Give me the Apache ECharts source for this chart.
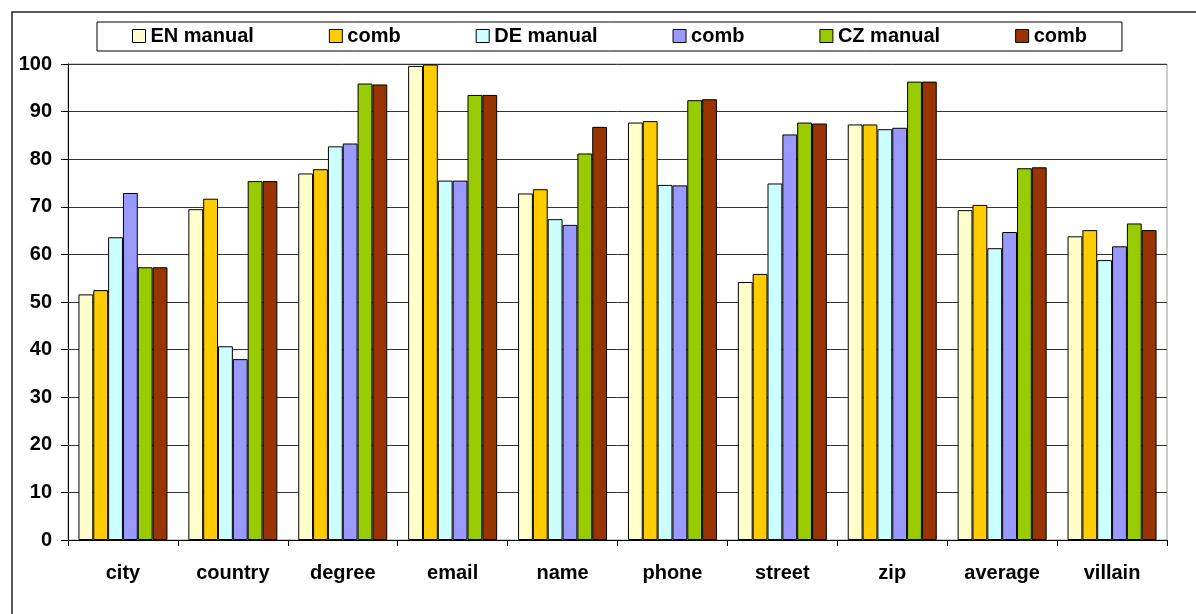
<!DOCTYPE html>
<html>
<head>
<meta charset="utf-8">
<script src="https://cdn.jsdelivr.net/npm/echarts@6/dist/echarts.min.js"></script>
<style>
  html, body { margin: 0; padding: 0; background: #fff; }
  #chart { width: 1196px; height: 614px; }
</style>
</head>
<body>
<div id="chart"></div>
<script>
// Field categories along the x axis
const categories = ['city', 'country', 'degree', 'email', 'name', 'phone', 'street', 'zip', 'average', 'villain'];

// Scores per field (percent)
const enManual = [51.6, 69.5, 77.0, 99.6, 72.8, 87.7, 54.2, 87.3, 69.3, 63.8];
const enComb   = [52.5, 71.7, 77.9, 99.9, 73.7, 88.0, 55.9, 87.3, 70.4, 65.1];
const deManual = [63.6, 40.7, 82.7, 75.5, 67.4, 74.6, 74.9, 86.3, 61.3, 58.8];
const deComb   = [72.9, 38.0, 83.3, 75.5, 66.2, 74.5, 85.2, 86.6, 64.7, 61.7];
const czManual = [57.3, 75.4, 95.9, 93.5, 81.2, 92.4, 87.7, 96.3, 78.1, 66.5];
const czComb   = [57.3, 75.4, 95.7, 93.5, 86.8, 92.6, 87.5, 96.3, 78.3, 65.1];

// Legend entries; the three "comb" series get distinct keys but display as "comb"
const seriesNames = ['EN manual', 'EN comb', 'DE manual', 'DE comb', 'CZ manual', 'CZ comb'];
const seriesData = [enManual, enComb, deManual, deComb, czManual, czComb];
const seriesColors = ['#FFFFCC', '#FFCC00', '#CCFFFF', '#9999FF', '#99CC00', '#993300'];

const FONT = '"Liberation Sans", Arial, sans-serif';

const chart = echarts.init(document.getElementById('chart'), null, { renderer: 'canvas' });

chart.setOption({
  animation: false,
  backgroundColor: '#fff',
  graphic: [{
    type: 'rect',
    shape: { x: 12, y: 12, width: 1400, height: 800 },
    style: { fill: 'none', stroke: '#222', lineWidth: 1.5 },
    silent: true,
    z: -1
  }],
  legend: {
    left: 97,
    top: 22,
    data: seriesNames,
    formatter: name => name.endsWith('comb') ? 'comb' : name,
    itemWidth: 13,
    itemHeight: 13,
    itemGap: 75,
    padding: [4, 35, 5, 35],
    borderColor: '#000',
    borderWidth: 1,
    icon: 'rect',
    itemStyle: { borderColor: '#000', borderWidth: 1 },
    textStyle: { fontFamily: FONT, fontWeight: 'bold', fontSize: 20, color: '#000' }
  },
  grid: {
    left: 68,
    right: 29,
    top: 64,
    bottom: 74,
    show: true,
    borderColor: '#999',
    borderWidth: 1,
    containLabel: false
  },
  xAxis: {
    type: 'category',
    data: categories,
    axisLine: { lineStyle: { color: '#000', width: 1 } },
    axisTick: { show: true, length: 6, lineStyle: { color: '#000' } },
    axisLabel: {
      margin: 23,
      fontFamily: FONT, fontWeight: 'bold', fontSize: 20, color: '#000'
    },
    splitLine: { show: false }
  },
  yAxis: {
    type: 'value',
    min: 0,
    max: 100,
    interval: 10,
    axisLine: { show: true, lineStyle: { color: '#000', width: 1 } },
    axisTick: { show: true, length: 7, lineStyle: { color: '#000' } },
    axisLabel: {
      margin: 16,
      fontFamily: FONT, fontWeight: 'bold', fontSize: 20, color: '#000'
    },
    splitLine: { show: true, lineStyle: { color: '#333', width: 1 } }
  },
  series: seriesNames.map((name, i) => ({
    name: name,
    type: 'bar',
    data: seriesData[i],
    barGap: '0%',
    barCategoryGap: '19%',
    itemStyle: { color: seriesColors[i], borderColor: '#000', borderWidth: 1 }
  }))
});
</script>
</body>
</html>
